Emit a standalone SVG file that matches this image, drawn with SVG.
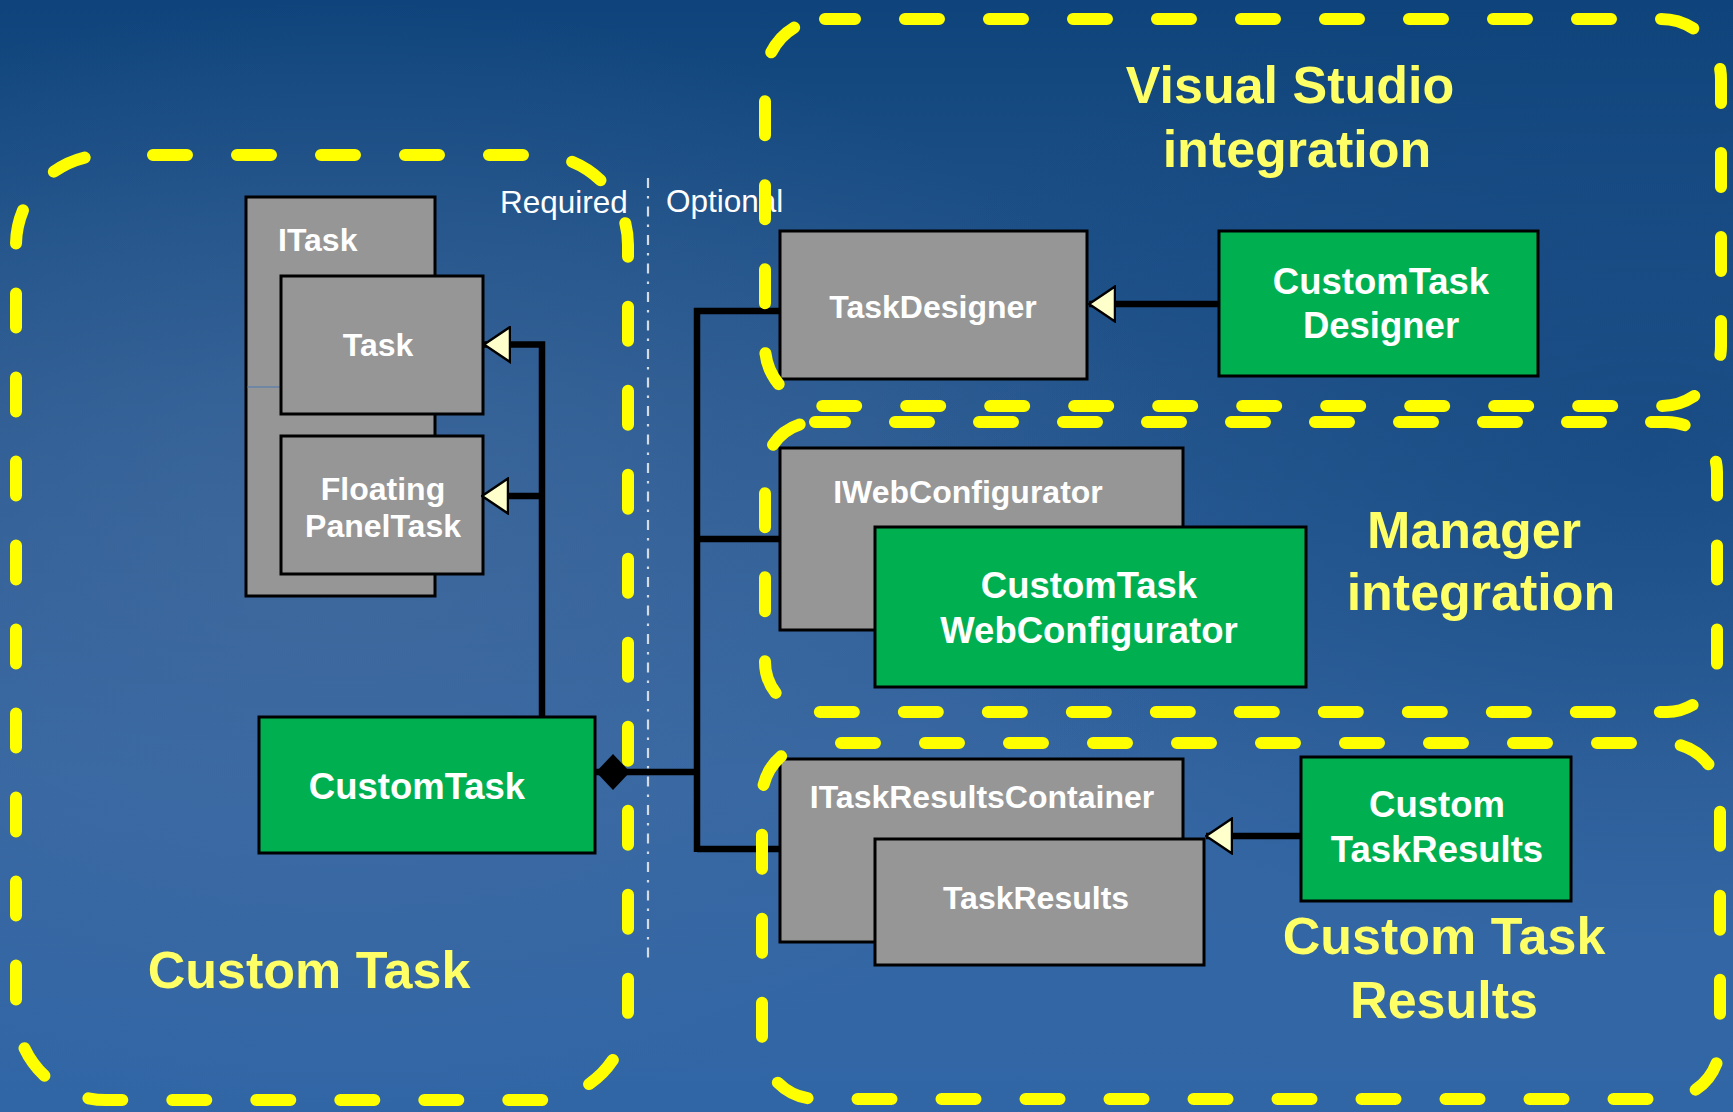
<svg xmlns="http://www.w3.org/2000/svg" width="1733" height="1112" viewBox="0 0 1733 1112">
  <defs>
    <linearGradient id="bgv" x1="0" y1="0" x2="0" y2="1">
      <stop offset="0" stop-color="#0e447b"/>
      <stop offset="0.35" stop-color="#27588f"/>
      <stop offset="0.7" stop-color="#3566a2"/>
      <stop offset="1" stop-color="#3166a6"/>
    </linearGradient>
    <radialGradient id="bgl" cx="0.2" cy="0.5" r="0.5">
      <stop offset="0" stop-color="#4a70a2" stop-opacity="0.55"/>
      <stop offset="1" stop-color="#4a70a2" stop-opacity="0"/>
    </radialGradient>
    <radialGradient id="bgr" cx="0.95" cy="0.4" r="0.45">
      <stop offset="0" stop-color="#0c4079" stop-opacity="0.55"/>
      <stop offset="1" stop-color="#0c4079" stop-opacity="0"/>
    </radialGradient>
    <marker id="inherit" viewBox="0 0 28 38" refX="27" refY="19" markerWidth="28" markerHeight="38" markerUnits="userSpaceOnUse" orient="auto">
      <path d="M1,1.5 L27,19 L1,36.5 Z" fill="#ffffcc" stroke="#000" stroke-width="2.5" stroke-linejoin="miter"/>
    </marker>
    <marker id="diamond" viewBox="0 0 36 38" refX="35" refY="19" markerWidth="36" markerHeight="38" markerUnits="userSpaceOnUse" orient="auto">
      <path d="M1,19 L18,1 L35,19 L18,37 Z" fill="#000"/>
    </marker>
    <style>
      .gray { fill: #969696; stroke: #000; stroke-width: 3; }
      .green { fill: #00b050; stroke: #000; stroke-width: 3; }
      .lbl { font-family: "Liberation Sans", Arial, sans-serif; font-weight: bold; fill: #ffffff; text-anchor: middle; }
      .g32 { font-size: 32px; }
      .g36 { font-size: 36.5px; }
      .title { font-family: "Liberation Sans", Arial, sans-serif; font-weight: bold; font-size: 52px; fill: #ffff66; text-anchor: middle; }
      .note { font-family: "Liberation Sans", Arial, sans-serif; font-size: 31.5px; fill: #ffffff; }
      .region { fill: none; stroke: #ffff00; stroke-width: 12; stroke-linecap: round; stroke-dasharray: 34 50; }
      .conn { fill: none; stroke: #000; stroke-width: 6.5; }
    </style>
  </defs>

  <!-- background -->
  <rect x="0" y="0" width="1733" height="1112" fill="url(#bgv)"/>
  <rect x="0" y="0" width="1733" height="1112" fill="url(#bgl)"/>
  <rect x="0" y="0" width="1733" height="1112" fill="url(#bgr)"/>

  <!-- separator -->
  <line x1="648" y1="178" x2="648" y2="960" stroke="#d4dbe4" stroke-width="2.2" stroke-dasharray="10 8 2.5 8"/>
  <text class="note" x="500" y="213">Required</text>
  <text class="note" x="666" y="212">Optional</text>

  <!-- nodes -->
  <g id="ITask">
    <rect class="gray" x="246" y="197" width="189" height="399"/>
    <line x1="247" y1="387" x2="280" y2="387" stroke="#4a78b0" stroke-width="1.2"/>
    <text class="lbl g32" x="278" y="251" style="text-anchor:start">ITask</text>
  </g>
  <g id="Task">
    <rect class="gray" x="281" y="276" width="202" height="138"/>
    <text class="lbl g32" x="378" y="356">Task</text>
  </g>
  <g id="FloatingPanelTask">
    <rect class="gray" x="281" y="436" width="202" height="138"/>
    <text class="lbl g32" x="383" y="500">Floating</text>
    <text class="lbl g32" x="383" y="537">PanelTask</text>
  </g>
  <g id="CustomTask">
    <rect class="green" x="259" y="717" width="336" height="136"/>
    <text class="lbl g36" x="417" y="799">CustomTask</text>
  </g>
  <g id="TaskDesigner">
    <rect class="gray" x="780" y="231" width="307" height="148"/>
    <text class="lbl g32" x="933" y="318">TaskDesigner</text>
  </g>
  <g id="CustomTaskDesigner">
    <rect class="green" x="1219" y="231" width="319" height="145"/>
    <text class="lbl g36" x="1381" y="294">CustomTask</text>
    <text class="lbl g36" x="1381" y="338">Designer</text>
  </g>
  <g id="IWebConfigurator">
    <rect class="gray" x="780" y="448" width="403" height="182"/>
    <text class="lbl g32" x="968" y="503">IWebConfigurator</text>
  </g>
  <g id="CustomTaskWebConfigurator">
    <rect class="green" x="875" y="527" width="431" height="160"/>
    <text class="lbl g36" x="1089" y="598">CustomTask</text>
    <text class="lbl g36" x="1089" y="643">WebConfigurator</text>
  </g>
  <g id="ITaskResultsContainer">
    <rect class="gray" x="780" y="759" width="403" height="183"/>
    <text class="lbl g32" x="982" y="808">ITaskResultsContainer</text>
  </g>
  <g id="TaskResults">
    <rect class="gray" x="875" y="839" width="329" height="126"/>
    <text class="lbl g32" x="1036" y="909">TaskResults</text>
  </g>
  <g id="CustomTaskResults">
    <rect class="green" x="1301" y="757" width="270" height="144"/>
    <text class="lbl g36" x="1437" y="817">Custom</text>
    <text class="lbl g36" x="1437" y="862">TaskResults</text>
  </g>

  <!-- connectors -->
  <g id="connectors">
    <path class="conn" d="M542,717 V344.5 H484" marker-end="url(#inherit)"/>
    <path class="conn" d="M542,496 H482" marker-end="url(#inherit)"/>
    <path class="conn" d="M1219,304 H1089" marker-end="url(#inherit)"/>
    <path class="conn" d="M1301,836 H1206" marker-end="url(#inherit)"/>
    <path class="conn" d="M697,308 V852"/>
    <path class="conn" d="M694,311 H780"/>
    <path class="conn" d="M697,539 H780"/>
    <path class="conn" d="M697,849 H780"/>
    <path class="conn" d="M697,772 H596" marker-end="url(#diamond)"/>
  </g>

  <!-- regions -->
  <g id="region-custom-task">
    <rect class="region" x="16" y="155" width="612" height="945" rx="90" ry="90" stroke-dashoffset="37"/>
    <text class="title" x="309" y="988">Custom Task</text>
  </g>
  <g id="region-visual-studio">
    <rect class="region" x="765" y="19" width="956" height="387" rx="60" ry="60" stroke-dashoffset="4"/>
    <text class="title" x="1290" y="103">Visual Studio</text>
    <text class="title" x="1297" y="167">integration</text>
  </g>
  <g id="region-manager">
    <rect class="region" x="765" y="422" width="952" height="290" rx="50" ry="50" stroke-dashoffset="4"/>
    <text class="title" x="1474" y="548">Manager</text>
    <text class="title" x="1481" y="610">integration</text>
  </g>
  <g id="region-results">
    <rect class="region" x="762" y="743" width="958" height="356" rx="55" ry="55" stroke-dashoffset="60"/>
    <text class="title" x="1444" y="954">Custom Task</text>
    <text class="title" x="1444" y="1018">Results</text>
  </g>
</svg>
